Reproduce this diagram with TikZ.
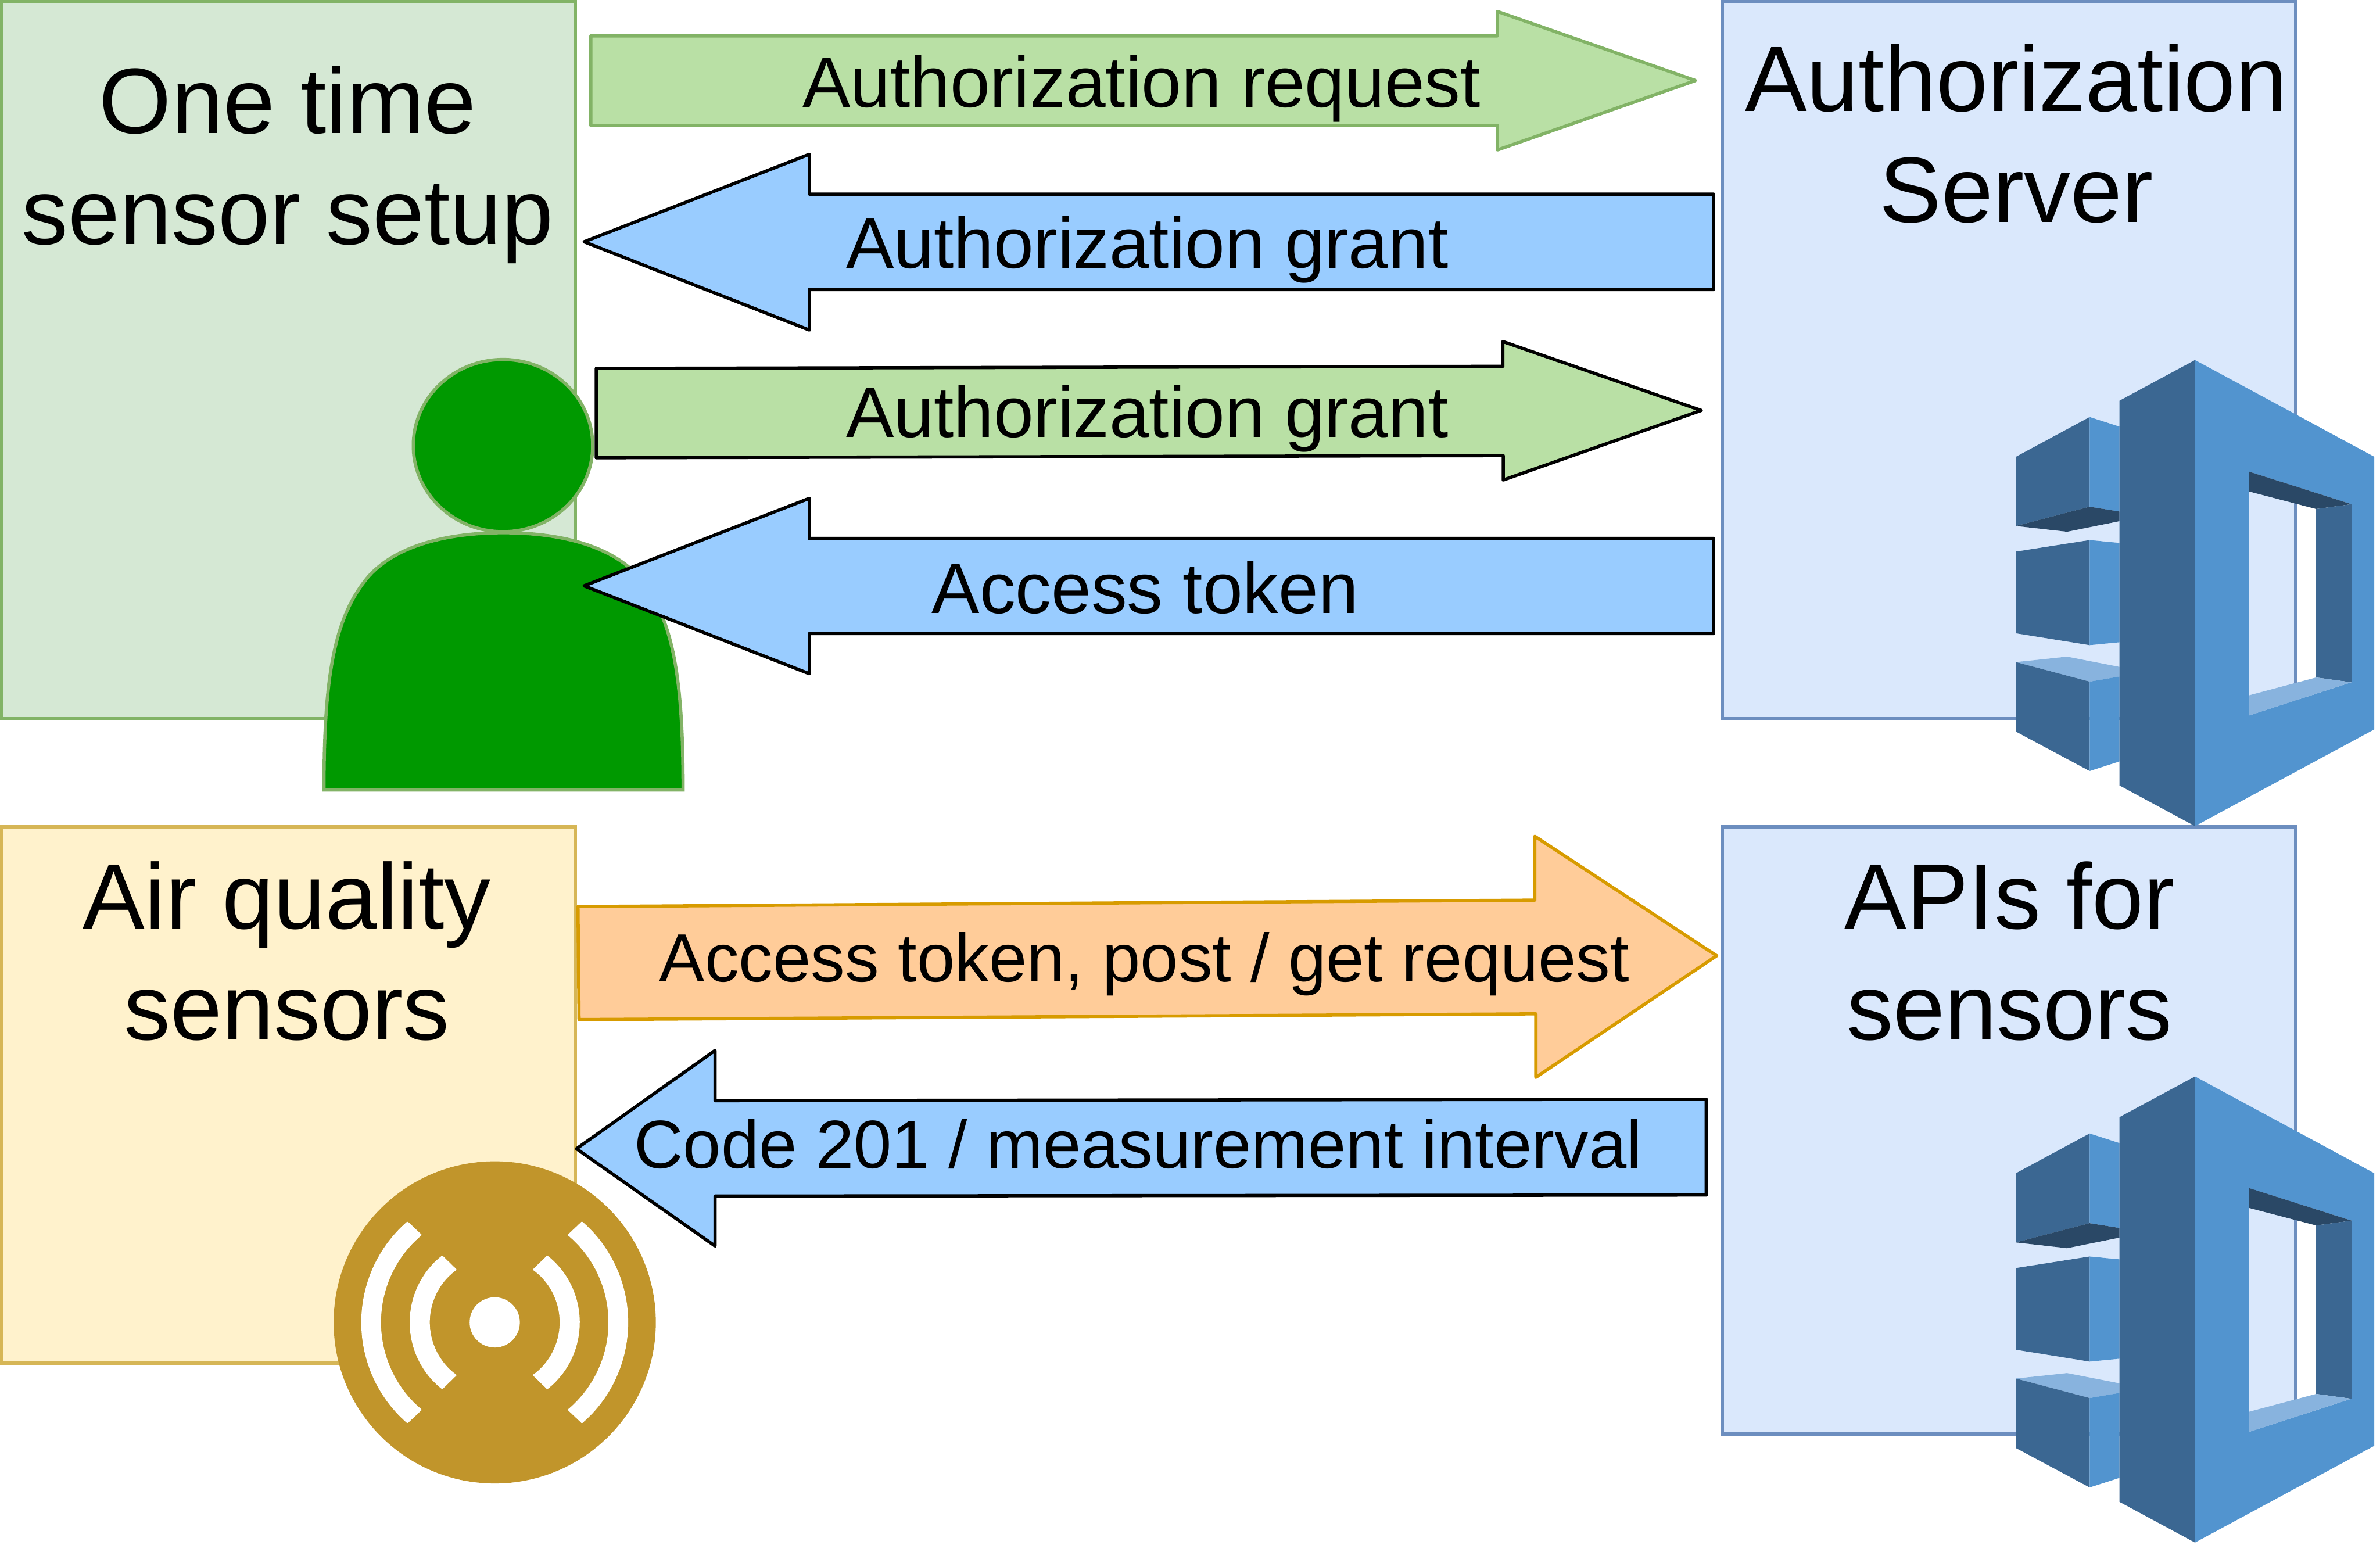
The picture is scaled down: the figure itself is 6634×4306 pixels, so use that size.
\documentclass[tikz,border=0pt]{standalone}
\usepackage{fontspec}
\setmainfont{Liberation Sans}
\definecolor{gfill}{HTML}{D5E8D4}\definecolor{gline}{HTML}{82B366}
\definecolor{bfill}{HTML}{DAE8FC}\definecolor{bline}{HTML}{6C8EBF}
\definecolor{yfill}{HTML}{FFF2CC}\definecolor{yline}{HTML}{D6B656}
\definecolor{agreen}{HTML}{B9E0A5}\definecolor{ablue}{HTML}{99CCFF}
\definecolor{aorange}{HTML}{FFCC99}\definecolor{oline}{HTML}{D79B00}
\definecolor{person}{HTML}{009900}\definecolor{gold}{HTML}{C1952B}
\definecolor{awsmid}{HTML}{5294CF}\definecolor{awsdark}{HTML}{3B6792}
\definecolor{awsdeep}{HTML}{2A4866}\definecolor{awslight}{HTML}{88B3DE}
\tikzset{
  box/.style={draw,line width=10pt,minimum width=#1,inner sep=0pt,outer sep=0pt,anchor=north west},
  title/.style={anchor=base,inner sep=0pt,font=\fontsize{259}{309}\selectfont},
  lab/.style={anchor=base,inner sep=0pt,font=\fontsize{200}{240}\selectfont},
  blockarrow/.style={line width=9pt,line join=round},
}
\newcommand{\awsicon}[2]{%
  \begin{scope}[shift={(#1,#2)},x=0.7231pt,y=-0.8929pt]
    \fill[awsdark] (165,362)--(449,238)--(449,518)--(165,578)--cycle;
    \fill[awsmid] (449,238)--(564,268)--(564,533)--(449,518)--cycle;
    \fill[awsdeep] (165,578)--(449,518)--(564,533)--(564,563)--(362,596)--cycle;
    \fill[awsdark] (165,658)--(449,622)--(449,950)--(165,913)--cycle;
    \fill[awsmid] (449,622)--(564,631)--(564,941)--(449,950)--cycle;
    \fill[awslight] (165,1003)--(362,986)--(564,1018)--(564,1048)--(449,1064)--cycle;
    \fill[awsdark] (165,1003)--(449,1064)--(449,1343)--(165,1220)--cycle;
    \fill[awsmid] (449,1064)--(564,1048)--(564,1313)--(449,1343)--cycle;
    \fill[awsdark] (564,187)--(855,60)--(855,1515)--(564,1388)--cycle;
    \fill[awsmid,even odd rule] (855,60)--(1546,362)--(1546,1213)--(855,1515)--cycle
       (1062,408)--(1458,510)--(1458,1066)--(1062,1170)--cycle;
    \fill[awsdeep] (1062,408)--(1458,510)--(1322,525)--(1062,470)--cycle;
    \fill[awsdark] (1322,525)--(1458,510)--(1458,1066)--(1322,1051)--cycle;
    \fill[awslight] (1062,1107)--(1322,1051)--(1458,1066)--(1062,1170)--cycle;
  \end{scope}}
\begin{document}
\begin{tikzpicture}[x=1pt,y=-1pt]
\useasboundingbox (0,0) rectangle (6634,4306);
% boxes
\node[box=1599pt,minimum height=1998pt,fill=gfill,draw=gline] (setup) at (5,5) {};
\node[box=1599pt,minimum height=1998pt,fill=bfill,draw=bline] (auth) at (4800,5) {};
\node[box=1599pt,minimum height=1495pt,fill=yfill,draw=yline] (sensors) at (5,2305) {};
\node[box=1599pt,minimum height=1693pt,fill=bfill,draw=bline] (apis) at (4800,2305) {};
% titles
\node[title] (t1a) at (802,372) {One time};
\node[title] (t1b) at (802,681) {sensor setup};
\node[title] (t2a) at (5620,310) {Authorization};
\node[title] (t2b) at (5620,619) {Server};
\node[title] (t3a) at (800,2589) {Air quality};
\node[title] (t3b) at (800,2898) {sensors};
\node[title] (t4a) at (5602,2589) {APIs for};
\node[title] (t4b) at (5602,2898) {sensors};
% aws icons
\awsicon{5500}{950}
\awsicon{5500}{2947}
% person
\draw[gline,fill=person,line width=9pt] (903,2202) .. controls (903,1890) and (930,1720) .. (1028,1606)
   .. controls (1110,1515) and (1260,1485) .. (1403.5,1485)
   .. controls (1547,1485) and (1697,1515) .. (1779,1606)
   .. controls (1877,1720) and (1904,1890) .. (1904,2202) -- cycle;
\draw[gline,fill=person,line width=9pt] (1402,1242) ellipse [x radius=250, y radius=240];
% sensor
\fill[gold] (1379,3686) circle [radius=449];
\begin{scope}[shift={(1379,3686)}]
  \fill[white] (0,0) circle [radius=70];
  \foreach \s in {1,-1}{
    \begin{scope}[xscale=\s]
      \fill[white,rounded corners=2pt] (49.2:372) arc[start angle=49.2,end angle=-49.2,radius=372]
         -- (-50.2:317) arc[start angle=-50.2,end angle=50.2,radius=317] -- cycle;
      \fill[white,rounded corners=2pt] (51.9:237) arc[start angle=51.9,end angle=-51.9,radius=237]
         -- (-54.3:181) arc[start angle=-54.3,end angle=54.3,radius=181] -- cycle;
    \end{scope}}
\end{scope}
% block arrows
\draw[blockarrow,draw=gline,fill=agreen] (1647,100)--(4174,100)--(4174,32)--(4726,224.5)--(4174,418)--(4174,349.5)--(1647,349.5)--cycle;
\draw[blockarrow,fill=ablue] (1628,674)--(2256,430)--(2256,541)--(4776,541)--(4776,807)--(2256,807)--(2256,920)--cycle;
\draw[blockarrow,fill=agreen] (1662,1027)--(4189,1021)--(4189,952)--(4742,1144)--(4190,1338)--(4190,1270)--(1662,1276)--cycle;
\draw[blockarrow,fill=ablue] (1628,1633)--(2256,1389)--(2256,1501)--(4776,1501)--(4776,1766)--(2256,1766)--(2256,1878)--cycle;
\draw[blockarrow,draw=oline,fill=aorange] (1611,2527)--(4278,2509)--(4278,2331)--(4785,2664)--(4281,3003)--(4281,2826)--(1614,2842)--cycle;
\draw[blockarrow,fill=ablue] (1607,3202)--(1993,2928)--(1993,3068)--(4756,3064)--(4756,3331)--(1993,3334)--(1993,3473)--cycle;
% labels
\node[lab] (l1) at (3182,299) {Authorization request};
\node[lab] (l2) at (3198,748) {Authorization grant};
\node[lab] (l3) at (3198,1219) {Authorization grant};
\node[lab] (l4) at (3192,1709) {Access token};
\node[lab,font=\fontsize{190}{228}\selectfont] (l5) at (3190,2737) {Access token, post / get request};
\node[lab,font=\fontsize{190}{228}\selectfont] (l6) at (3172,3257) {Code 201 / measurement interval};
\end{tikzpicture}
\end{document}
